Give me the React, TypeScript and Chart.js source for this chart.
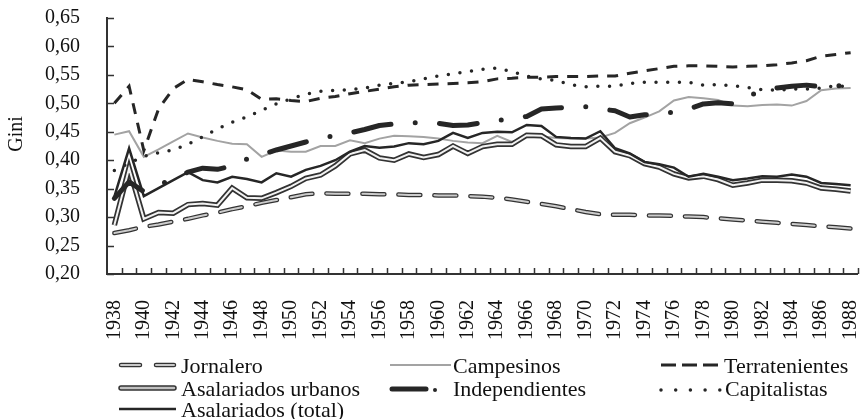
import React, { useEffect, useRef } from "react";
import { Chart, registerables } from "chart.js";
Chart.register(...registerables);

const years = [
  "1938","1939","1940","1941","1942","1943","1944","1945","1946","1947",
  "1948","1949","1950","1951","1952","1953","1954","1955","1956","1957",
  "1958","1959","1960","1961","1962","1963","1964","1965","1966","1967",
  "1968","1969","1970","1971","1972","1973","1974","1975","1976","1977",
  "1978","1979","1980","1981","1982","1983","1984","1985","1986","1987","1988",
];

const yTicks = [0.2, 0.25, 0.3, 0.35, 0.4, 0.45, 0.5, 0.55, 0.6, 0.65];

const jornalero = [
  0.272,0.277,0.283,0.287,0.292,0.297,0.303,0.308,0.314,0.319,
  0.325,0.330,0.335,0.340,0.342,0.341,0.341,0.341,0.340,0.340,
  0.339,0.339,0.338,0.338,0.337,0.336,0.334,0.331,0.327,0.323,
  0.319,0.314,0.309,0.305,0.304,0.304,0.303,0.303,0.302,0.301,
  0.300,0.298,0.296,0.294,0.292,0.290,0.288,0.286,0.284,0.282,0.280,
];

const campesinos = [
  0.445,0.451,0.406,0.419,0.433,0.447,0.440,0.434,0.429,0.428,
  0.406,0.417,0.415,0.415,0.425,0.425,0.435,0.430,0.438,0.443,
  0.442,0.441,0.438,0.434,0.431,0.430,0.443,0.432,0.441,0.442,
  0.439,0.438,0.438,0.440,0.448,0.465,0.475,0.486,0.505,0.511,
  0.509,0.506,0.496,0.495,0.497,0.498,0.496,0.504,0.523,0.526,0.527,
];

const terratenientes = [
  0.500,0.530,0.417,0.490,0.526,0.542,0.538,0.533,0.529,0.524,
  0.507,0.508,0.505,0.503,0.509,0.512,0.517,0.521,0.525,0.529,
  0.532,0.533,0.534,0.535,0.536,0.538,0.543,0.544,0.546,0.546,
  0.547,0.547,0.547,0.548,0.548,0.553,0.557,0.561,0.565,0.566,
  0.566,0.565,0.564,0.565,0.566,0.568,0.571,0.575,0.583,0.586,0.589,
];

const asalariadosUrbanos = [
  0.286,0.386,0.297,0.308,0.307,0.322,0.324,0.321,0.351,0.334,
  0.333,0.343,0.354,0.368,0.374,0.390,0.411,0.418,0.404,0.400,
  0.411,0.405,0.410,0.425,0.412,0.424,0.428,0.428,0.444,0.443,
  0.427,0.424,0.424,0.439,0.415,0.408,0.394,0.388,0.376,0.369,
  0.372,0.366,0.356,0.360,0.365,0.365,0.364,0.360,0.351,0.349,0.346,
];

const independientes = [
  0.333,0.362,0.345,0.356,0.368,0.379,0.386,0.384,0.390,0.402,
  0.410,0.418,0.425,0.432,0.438,0.444,0.448,0.454,0.461,0.464,
  0.466,0.466,0.465,0.461,0.462,0.466,0.470,0.473,0.477,0.490,
  0.492,0.493,0.494,0.490,0.487,0.476,0.480,0.481,0.485,0.490,
  0.499,0.501,0.499,0.512,0.523,0.527,0.530,0.532,0.529,0.531,0.530,
];

const capitalistas = [
  0.382,0.395,0.407,0.413,0.418,0.428,0.441,0.455,0.467,0.476,
  0.488,0.499,0.508,0.516,0.521,0.523,0.524,0.527,0.532,0.535,
  0.538,0.543,0.548,0.552,0.556,0.560,0.562,0.556,0.548,0.543,
  0.540,0.533,0.529,0.530,0.530,0.535,0.537,0.537,0.537,0.537,
  0.532,0.533,0.531,0.528,0.524,0.523,0.525,0.525,0.527,0.531,0.529,
];

const asalariadosTotal = [
  0.336,0.421,0.337,0.351,0.365,0.379,0.365,0.361,0.371,0.367,
  0.361,0.377,0.371,0.383,0.390,0.400,0.415,0.425,0.422,0.424,
  0.430,0.428,0.434,0.448,0.439,0.448,0.450,0.449,0.462,0.460,
  0.441,0.439,0.438,0.451,0.421,0.412,0.397,0.393,0.387,0.371,
  0.376,0.371,0.365,0.368,0.372,0.371,0.375,0.371,0.360,0.358,0.356,
];

const FONT = "'Liberation Serif', 'Times New Roman', serif";
const DARK = "#262626";
const GRAY = "#a3a3a3";

function seg(ctx: CanvasRenderingContext2D, x1: number, x2: number, y: number, color: string, width: number, cap: CanvasLineCap = "butt", dash: number[] = []) {
  ctx.save();
  ctx.strokeStyle = color;
  ctx.lineWidth = width;
  ctx.lineCap = cap;
  ctx.setLineDash(dash);
  ctx.beginPath();
  ctx.moveTo(x1, y);
  ctx.lineTo(x2, y);
  ctx.stroke();
  ctx.restore();
}

const decorPlugin = {
  id: "decor",
  afterDraw(chart: any) {
    const { ctx, chartArea, scales } = chart;
    const x = scales.x;
    const y = scales.y;
    ctx.save();
    // axis lines
    ctx.strokeStyle = "#333";
    ctx.lineWidth = 2;
    ctx.beginPath();
    ctx.moveTo(chartArea.left, chartArea.top - 1);
    ctx.lineTo(chartArea.left, chartArea.bottom);
    ctx.lineTo(chartArea.right, chartArea.bottom);
    ctx.stroke();
    // inward tick marks
    ctx.lineWidth = 1.5;
    ctx.beginPath();
    for (let j = 1; j <= years.length; j++) {
      const bx = Math.round(x.getPixelForValue(j - 0.5)) + 0.5;
      ctx.moveTo(bx, chartArea.bottom);
      ctx.lineTo(bx, chartArea.bottom - 6);
    }
    for (const t of yTicks) {
      const py = Math.round(y.getPixelForValue(t)) + 0.5;
      ctx.moveTo(chartArea.left, py);
      ctx.lineTo(chartArea.left + 7, py);
    }
    ctx.stroke();

    // y title
    ctx.fillStyle = "#111";
    ctx.font = `20px ${FONT}`;
    ctx.textAlign = "center";
    ctx.textBaseline = "middle";
    ctx.save();
    ctx.translate(17, 134);
    ctx.rotate(-Math.PI / 2);
    ctx.fillText("Gini", 0, 0);
    ctx.restore();

    // legend
    const r1 = 365, r2 = 388, r3 = 409;
    // Jornalero
    seg(ctx, 121, 140, r1, "#333", 4.5, "round");
    seg(ctx, 156, 174, r1, "#333", 4.5, "round");
    seg(ctx, 121, 140, r1, "#c8c8c8", 2, "round");
    seg(ctx, 156, 174, r1, "#c8c8c8", 2, "round");
    // Asalariados urbanos
    seg(ctx, 121, 174, r2, "#333", 5.5, "round");
    seg(ctx, 121, 174, r2, "#c0c0c0", 2.5, "round");
    // Asalariados total
    seg(ctx, 119, 176, r3, DARK, 2.5);
    // Campesinos
    seg(ctx, 390, 451, r1, GRAY, 2);
    // Independientes
    seg(ctx, 392, 426, r2 + 1, DARK, 5, "round");
    seg(ctx, 435, 435, r2 + 2, DARK, 4, "round");
    // Terratenientes
    seg(ctx, 661, 719, r1, DARK, 3, "butt", [15, 6]);
    // Capitalistas
    seg(ctx, 661, 720, r2 + 2, DARK, 3.5, "round", [0, 14.7]);

    ctx.fillStyle = "#111";
    ctx.font = `22px ${FONT}`;
    ctx.textAlign = "left";
    ctx.textBaseline = "alphabetic";
    ctx.fillText("Jornalero", 181, 373);
    ctx.fillText("Asalariados urbanos", 181, 396);
    ctx.fillText("Asalariados (total)", 181, 417);
    ctx.fillText("Campesinos", 453, 373);
    ctx.fillText("Independientes", 453, 396);
    ctx.fillText("Terratenientes", 724, 373);
    ctx.fillText("Capitalistas", 725, 396);
    ctx.restore();
  },
};

export default function App() {
  const ref = useRef<HTMLCanvasElement>(null);
  useEffect(() => {
    document.body.style.margin = "0";
    const canvas = ref.current!;
    const base = { pointRadius: 0, pointHoverRadius: 0, tension: 0, fill: false };
    const chart = new Chart(canvas, {
      type: "line",
      data: {
        labels: years,
        datasets: [
          { ...base, label: "Independientes", data: independientes, borderColor: DARK, borderWidth: 5, borderDash: [38, 24.3, 0, 24.3], borderCapStyle: "round", borderJoinStyle: "round", order: 0 },
          { ...base, label: "Capitalistas", data: capitalistas, borderColor: DARK, borderWidth: 3.5, borderDash: [0, 11.7], borderCapStyle: "round", order: 1 },
          { ...base, label: "Terratenientes", data: terratenientes, borderColor: DARK, borderWidth: 3, borderDash: [11, 9], order: 2 },
          { ...base, label: "Asalariados (total)", data: asalariadosTotal, borderColor: DARK, borderWidth: 2.5, order: 3 },
          { ...base, label: "Asalariados urbanos", data: asalariadosUrbanos, borderColor: "#f2f2f2", borderWidth: 2, order: 4 },
          { ...base, label: "Asalariados urbanos (borde)", data: asalariadosUrbanos, borderColor: "#333", borderWidth: 5.5, order: 5 },
          { ...base, label: "Campesinos", data: campesinos, borderColor: GRAY, borderWidth: 2, order: 6 },
          { ...base, label: "Jornalero", data: jornalero, borderColor: "#cccccc", borderWidth: 2, borderDash: [22, 14], borderCapStyle: "round", order: 7 },
          { ...base, label: "Jornalero (borde)", data: jornalero, borderColor: "#333", borderWidth: 4.5, borderDash: [22, 14], borderCapStyle: "round", order: 8 },
        ],
      },
      options: {
        responsive: false,
        animation: false,
        events: [],
        layout: { padding: { top: 18, right: 4, bottom: 75, left: 0 } },
        plugins: { legend: { display: false }, tooltip: { enabled: false }, title: { display: false } },
        scales: {
          x: {
            type: "category",
            offset: true,
            grid: { display: false, drawTicks: false, offset: true },
            border: { display: false },
            ticks: {
              autoSkip: false,
              maxRotation: 90,
              minRotation: 90,
              padding: 26,
              color: "#111",
              font: { family: FONT, size: 20 },
              callback: function (this: any, value: any) {
                const lab = this.getLabelForValue(value);
                return Number(lab) % 2 === 0 ? lab : "";
              },
            },
            afterFit: (s: any) => {
              s.height = 70;
              s.paddingLeft = 0;
              s.paddingRight = 0;
            },
          },
          y: {
            min: 0.2,
            max: 0.65,
            grid: { display: false, drawTicks: false },
            border: { display: false },
            ticks: {
              autoSkip: false,
              stepSize: 0.05,
              padding: 27,
              color: "#111",
              font: { family: FONT, size: 20 },
              callback: (v: any) => Number(v).toFixed(2).replace(".", ","),
            },
            afterFit: (s: any) => {
              s.width = 107;
              s.paddingTop = 0;
              s.paddingBottom = 0;
            },
          },
        },
      },
      plugins: [decorPlugin],
    } as any);
    return () => chart.destroy();
  }, []);
  return (
    <div style={{ width: 862, height: 419, position: "relative", background: "#fff" }}>
      <canvas ref={ref} width={862} height={419} style={{ display: "block" }} />
    </div>
  );
}
